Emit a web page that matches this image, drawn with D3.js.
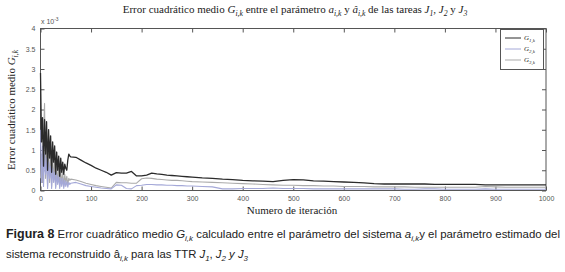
<!DOCTYPE html>
<html>
<head>
<meta charset="utf-8">
<script src="https://cdn.jsdelivr.net/npm/d3@7"></script>
<style>
body { margin: 0; background: #fff; }
</style>
</head>
<body>
<svg id="chart" width="565" height="272"></svg>
<script>
var iteraciones = [0, 2, 4, 6, 8, 10, 12, 14, 16, 18, 20, 22, 24, 26, 28, 30, 32, 34, 36, 38, 40, 42, 44, 46, 48, 50, 52, 54, 56, 58, 60,
    70, 80, 90, 100, 110, 120, 130, 140, 150, 160, 170, 180, 190, 200, 210, 220, 230, 240, 250, 260, 270, 280, 290, 300,
    320, 340, 360, 380, 400, 420, 440, 460, 480, 500, 520, 540, 560, 580, 600, 620, 640, 660, 680, 700, 720, 740, 760, 780, 800,
    820, 840, 860, 880, 900, 920, 940, 960, 980, 1000];

// values in units of 1e-3
var g1 = [2.9, 1.2, 1.8, 0.6, 1.75, 0.9, 1.7, 0.5, 1.5, 0.8, 1.35, 0.45, 1.2, 0.7, 1.1, 0.4, 0.95, 0.5, 0.85, 0.35, 0.8, 0.45, 0.7, 0.4, 0.65, 0.55, 0.5, 0.75, 0.9, 0.85, 0.83,
    0.82, 0.75, 0.68, 0.62, 0.55, 0.5, 0.45, 0.38, 0.44, 0.43, 0.43, 0.47, 0.36, 0.36, 0.38, 0.43, 0.41, 0.4, 0.38, 0.37, 0.36, 0.35, 0.34, 0.33,
    0.31, 0.3, 0.28, 0.27, 0.25, 0.24, 0.23, 0.22, 0.25, 0.27, 0.26, 0.24, 0.23, 0.22, 0.21, 0.2, 0.19, 0.17, 0.16, 0.16, 0.16, 0.16, 0.16, 0.15, 0.15,
    0.15, 0.15, 0.15, 0.14, 0.14, 0.14, 0.14, 0.14, 0.14, 0.14];
var g2 = [1.5, 0.2, 1.1, 0.1, 0.9, 0.4, 0.8, 0.05, 0.7, 0.3, 0.6, 0.05, 0.55, 0.2, 0.45, 0.05, 0.4, 0.15, 0.35, 0.05, 0.3, 0.1, 0.3, 0.05, 0.25, 0.1, 0.22, 0.08, 0.2, 0.15, 0.18,
    0.2, 0.16, 0.12, 0.1, 0.08, 0.06, 0.05, 0.04, 0.14, 0.13, 0.05, 0.04, 0.12, 0.13, 0.15, 0.15, 0.14, 0.14, 0.13, 0.13, 0.12, 0.12, 0.11, 0.11,
    0.1, 0.09, 0.04, 0.04, 0.05, 0.05, 0.05, 0.06, 0.05, 0.05, 0.05, 0.04, 0.04, 0.04, 0.04, 0.04, 0.04, 0.04, 0.04, 0.04, 0.03, 0.03, 0.04, 0.04, 0.03,
    0.03, 0.03, 0.03, 0.04, 0.03, 0.03, 0.03, 0.03, 0.03, 0.03];
var g3 = [0.3, 0.9, 0.2, 1.4, 2.15, 0.3, 1.2, 0.1, 1.0, 0.2, 0.9, 0.1, 0.8, 0.3, 0.7, 0.1, 0.6, 0.2, 0.55, 0.1, 0.5, 0.15, 0.45, 0.1, 0.4, 0.2, 0.35, 0.15, 0.3, 0.25, 0.28,
    0.26, 0.22, 0.18, 0.15, 0.12, 0.1, 0.08, 0.06, 0.2, 0.19, 0.19, 0.18, 0.18, 0.29, 0.31, 0.3, 0.28, 0.27, 0.26, 0.25, 0.25, 0.24, 0.23, 0.22,
    0.21, 0.2, 0.19, 0.18, 0.17, 0.16, 0.15, 0.14, 0.13, 0.13, 0.12, 0.12, 0.11, 0.11, 0.1, 0.1, 0.1, 0.09, 0.09, 0.09, 0.09, 0.08, 0.08, 0.08, 0.08,
    0.08, 0.08, 0.08, 0.1, 0.09, 0.08, 0.08, 0.08, 0.08, 0.08];

var xTicks = [0, 100, 200, 300, 400, 500, 600, 700, 800, 900, 1000];
var yTicks = [0, 0.5, 1, 1.5, 2, 2.5, 3, 3.5, 4];
var legendNames = ['1,k', '2,k', '3,k'];
var seriesColors = ['#2b2b2b', '#a4a8d8', '#ababab'];

var svg = d3.select('#chart');
var serif = "'Liberation Serif', 'Times New Roman', serif";
var sans = "'Liberation Sans', Arial, sans-serif";
var narrow = "'Liberation Sans Narrow', 'Arial Narrow', 'Liberation Sans', sans-serif";

var plotL = 40.5, plotR = 546, plotT = 28.5, plotB = 190.5;
var xScale = d3.scaleLinear().domain([0, 1000]).range([plotL, plotR]);
var yScale = d3.scaleLinear().domain([0, 4]).range([plotB, plotT]);

// text with italic parts and subscripts
function richText(parent, x, y, size, family, anchor, parts) {
    var t = parent.append('text').attr('x', x).attr('y', y)
        .attr('font-size', size).attr('font-family', family)
        .attr('text-anchor', anchor).attr('fill', '#222');
    var shift = 0;
    parts.forEach(function(p) {
        var s = t.append('tspan').text(p.t);
        var target = p.sub ? size * 0.3 : (p.sup ? -size * 0.45 : 0);
        if (target != shift) { s.attr('dy', target - shift); shift = target; }
        if (p.sub || p.sup) s.attr('font-size', size * 0.7);
        if (p.i) s.attr('font-style', 'italic');
        if (p.b) s.attr('font-weight', 'bold').attr('font-size', p.size || size);
    });
    return t;
}

// axes box with inward ticks on all sides
var axes = svg.append('g');
axes.append('rect').attr('x', plotL).attr('y', plotT).attr('width', plotR - plotL).attr('height', plotB - plotT)
    .attr('fill', 'none').attr('stroke', '#555').attr('stroke-width', 1);

var xAxisB = d3.axisBottom(xScale).tickValues(xTicks).tickSize(-4).tickPadding(6).tickFormat(d3.format('d'));
var xAxisT = d3.axisTop(xScale).tickValues(xTicks).tickSize(-4).tickFormat('');
var yAxisL = d3.axisLeft(yScale).tickValues(yTicks).tickSize(-4).tickPadding(5).tickFormat(d3.format(''));
var yAxisR = d3.axisRight(yScale).tickValues(yTicks).tickSize(-4).tickFormat('');

[[xAxisB, 'translate(0,' + plotB + ')'], [xAxisT, 'translate(0,' + plotT + ')'],
 [yAxisL, 'translate(' + plotL + ',0)'], [yAxisR, 'translate(' + plotR + ',0)']].forEach(function(a) {
    var g = axes.append('g').attr('transform', a[1]).call(a[0]);
    g.select('.domain').remove();
    g.selectAll('line').attr('stroke', '#555');
    g.selectAll('text').attr('font-family', sans).attr('font-size', 7).attr('fill', '#555');
});

richText(svg, 41, 24, 7, sans, 'start', [{t: 'x 10'}, {t: '-3', sup: true}]).attr('fill', '#555');

// curves
var lineGen = d3.line().x(function(d) { return xScale(d[0]); }).y(function(d) { return yScale(d[1]); });
var plot = svg.append('g');
[g3, g2, g1].forEach(function(vals, k) {
    var idx = 2 - k;
    var pts = iteraciones.map(function(it, i) { return [it, vals[i]]; });
    plot.append('path').datum(pts).attr('d', lineGen)
        .attr('fill', 'none').attr('stroke', seriesColors[idx])
        .attr('stroke-width', idx == 0 ? 1.3 : 1.1).attr('stroke-linejoin', 'round');
});

// legend
var leg = svg.append('g');
leg.append('rect').attr('x', 500.5).attr('y', 29.5).attr('width', 43).attr('height', 40)
    .attr('fill', '#fff').attr('stroke', '#555');
legendNames.forEach(function(n, i) {
    var y = 38 + i * 11;
    leg.append('line').attr('x1', 505).attr('x2', 521).attr('y1', y).attr('y2', y)
        .attr('stroke', seriesColors[i]).attr('stroke-width', 1);
    richText(leg, 524, y + 2, 7, serif, 'start', [{t: 'G', i: true}, {t: n, sub: true, i: true}]);
});

// titles
richText(svg, 295, 13, 11, serif, 'middle', [
    {t: 'Error cuadrático medio '}, {t: 'G', i: true}, {t: 'i,k', sub: true, i: true},
    {t: ' entre el parámetro '}, {t: 'a', i: true}, {t: 'i,k', sub: true, i: true},
    {t: ' y '}, {t: 'â', i: true}, {t: 'i,k', sub: true, i: true},
    {t: ' de las tareas '}, {t: 'J', i: true}, {t: '1', sub: true, i: true},
    {t: ', '}, {t: 'J', i: true}, {t: '2', sub: true, i: true},
    {t: ' y '}, {t: 'J', i: true}, {t: '3', sub: true, i: true}]);

richText(svg, 292, 214, 11, serif, 'middle', [{t: 'Numero de iteración'}]);

richText(svg, 0, 0, 11, serif, 'middle', [{t: 'Error cuadrático medio '}, {t: 'G', i: true}, {t: 'i,k', sub: true, i: true}])
    .attr('transform', 'translate(15,110) rotate(-90)');

// caption
var cap1 = richText(svg, 6, 238, 11, narrow, 'start', [
    {t: 'Figura 8', b: true, size: 12}, {t: ' Error cuadrático medio '}, {t: 'G', i: true}, {t: 'i,k', sub: true, i: true},
    {t: ' calculado entre el parámetro del sistema '}, {t: 'a', i: true}, {t: 'i,k', sub: true, i: true},
    {t: 'y el parámetro estimado del'}]);
cap1.attr('textLength', 554).attr('lengthAdjust', 'spacingAndGlyphs');
var cap2 = richText(svg, 6, 258, 11, narrow, 'start', [
    {t: 'sistema reconstruido â'}, {t: 'i,k', sub: true, i: true}, {t: ' para las TTR '},
    {t: 'J', i: true}, {t: '1', sub: true, i: true}, {t: ', '}, {t: 'J', i: true}, {t: '2', sub: true, i: true},
    {t: ' y ', i: true}, {t: 'J', i: true}, {t: '3', sub: true, i: true}]);
cap2.attr('textLength', 242).attr('lengthAdjust', 'spacingAndGlyphs');
</script>
</body>
</html>
